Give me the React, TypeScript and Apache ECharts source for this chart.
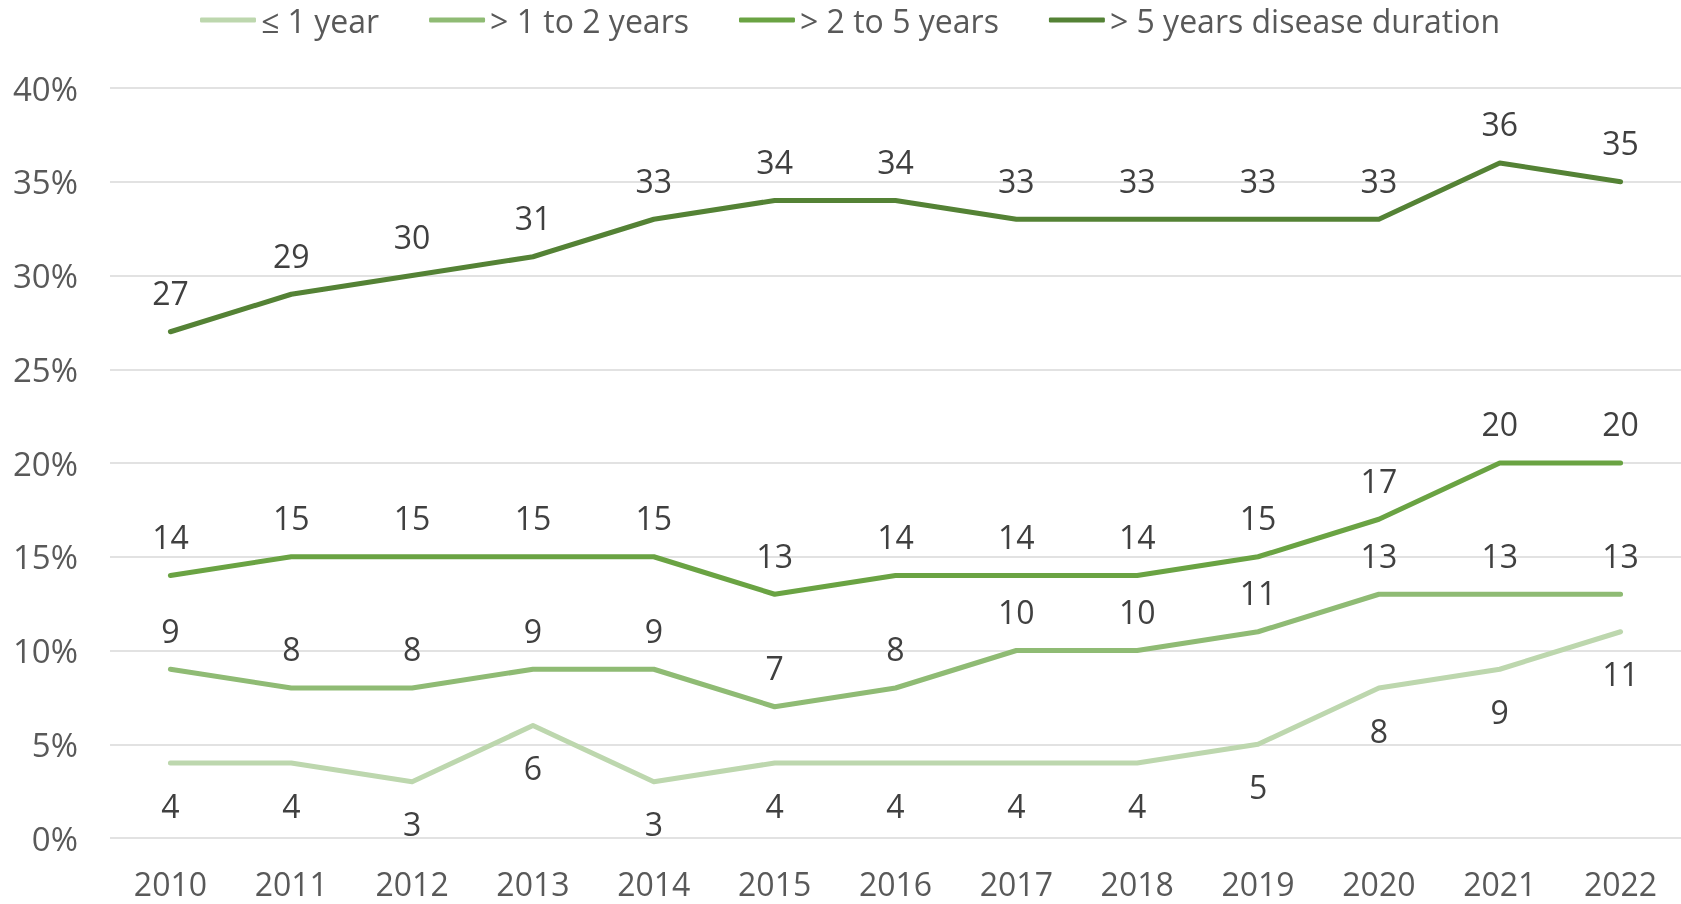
import React, { useEffect, useRef } from "react";
import * as echarts from "echarts";

const years = ["2010", "2011", "2012", "2013", "2014", "2015", "2016", "2017", "2018", "2019", "2020", "2021", "2022"];
const seriesNames = ["≤ 1 year", "> 1 to 2 years", "> 2 to 5 years", "> 5 years disease duration"];
const upTo1 = [4, 4, 3, 6, 3, 4, 4, 4, 4, 5, 8, 9, 11];
const oneTo2 = [9, 8, 8, 9, 9, 7, 8, 10, 10, 11, 13, 13, 13];
const twoTo5 = [14, 15, 15, 15, 15, 13, 14, 14, 14, 15, 17, 20, 20];
const over5 = [27, 29, 30, 31, 33, 34, 34, 33, 33, 33, 33, 36, 35];
const colors = ["#bdd7ae", "#8fbb74", "#6aa343", "#548235"];

const FONT = "Open Sans";

export default function App() {
  const ref = useRef<HTMLDivElement>(null);
  useEffect(() => {
    if (!ref.current) return;
    const chart = echarts.init(ref.current, null, { renderer: "svg" });
    const datas = [upTo1, oneTo2, twoTo5, over5];
    chart.setOption({
      animation: false,
      color: colors,
      textStyle: { fontFamily: FONT },
      legend: {
        left: 195,
        top: -1,
        itemWidth: 56,
        itemHeight: 5,
        itemGap: 50,
        icon: "roundRect",
        itemStyle: { opacity: 1 },
        textStyle: { fontFamily: FONT, fontSize: 32, color: "#595959" },
        data: seriesNames,
      },
      grid: { left: 110, top: 88, width: 1573, bottom: 66, containLabel: false },
      xAxis: {
        type: "category",
        data: years,
        boundaryGap: true,
        axisLine: { show: false },
        axisTick: { show: false },
        axisLabel: { fontFamily: FONT, fontSize: 32, lineHeight: 30, color: "#595959", margin: 30 },
      },
      yAxis: {
        type: "value",
        min: 0,
        max: 40,
        interval: 5,
        axisLine: { show: false },
        axisTick: { show: false },
        splitLine: { lineStyle: { color: "#d9d9d9", width: 1.5 } },
        axisLabel: { fontFamily: FONT, fontSize: 33, color: "#595959", margin: 32, formatter: "{value}%" },
      },
      series: datas.map((d, i) => ({
        name: seriesNames[i],
        type: "line",
        data: d,
        symbol: "circle",
        symbolSize: 0.1,
        showSymbol: true,
        lineStyle: { width: 5, color: colors[i], cap: "round", join: "round" },
        itemStyle: { color: colors[i] },
        label: {
          show: true,
          position: i === 0 ? "bottom" : "top",
          distance: i === 0 ? 26 : 23,
          fontFamily: FONT,
          fontSize: 32,
          color: "#404040",
        },
      })),
    });
    return () => chart.dispose();
  }, []);
  return <div ref={ref} style={{ position: "fixed", left: 0, top: 0, width: 1681, height: 904 }} />;
}
